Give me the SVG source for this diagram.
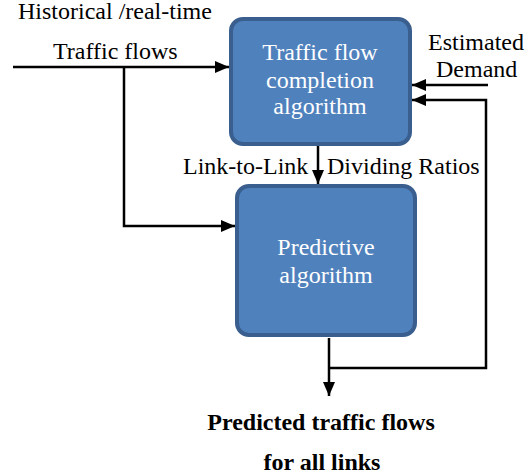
<svg xmlns="http://www.w3.org/2000/svg" width="532" height="476" viewBox="0 0 532 476">
<defs>
<marker id="arr" viewBox="0 0 14 12" markerWidth="14" markerHeight="12" refX="14" refY="6" orient="auto" markerUnits="userSpaceOnUse"><path d="M0,0 L14,6 L0,12 Z" fill="#000"/></marker>
</defs>
<style>
.box{fill:#4f81bd;stroke:#3a5f8f;stroke-width:4}
.wt{font-family:"Liberation Serif","Times New Roman",serif;font-size:24px;fill:#ffffff;text-anchor:middle}
.bt{font-family:"Liberation Serif","Times New Roman",serif;font-size:24px;fill:#000}
.bold{font-family:"Liberation Serif","Times New Roman",serif;font-size:24px;font-weight:bold;fill:#000;text-anchor:middle}
.ln{fill:none;stroke:#000;stroke-width:2.5}
</style>
<rect width="532" height="476" fill="#fff"/>
<g id="connectors">
<path class="ln" d="M13,67 H229" marker-end="url(#arr)"/>
<path class="ln" d="M124,67 V226 H235" marker-end="url(#arr)"/>
<path class="ln" d="M318,146 V184" marker-end="url(#arr)"/>
<path class="ln" d="M488,85 H412" marker-end="url(#arr)"/>
<path class="ln" d="M329,338 V396" marker-end="url(#arr)"/>
<path class="ln" d="M329,368 H486 V100 H412" marker-end="url(#arr)"/>
</g>
<g id="box1">
<rect class="box" x="231" y="19" width="179" height="125" rx="12"/>
<text class="wt" x="320" y="60">Traffic flow</text>
<text class="wt" x="320" y="88">completion</text>
<text class="wt" x="320" y="114">algorithm</text>
</g>
<g id="box2">
<rect class="box" x="237" y="186" width="178" height="149" rx="12"/>
<text class="wt" x="326" y="255">Predictive</text>
<text class="wt" x="326" y="283">algorithm</text>
</g>
<g id="labels">
<text class="bt" x="18" y="19">Historical /real-time</text>
<text class="bt" x="53" y="59">Traffic flows</text>
<text class="bt" x="428" y="50">Estimated</text>
<text class="bt" x="436" y="77">Demand</text>
<text class="bt" x="183" y="174">Link-to-Link</text>
<text class="bt" x="327" y="174">Dividing Ratios</text>
<text class="bold" x="321" y="430">Predicted traffic flows</text>
<text class="bold" x="322" y="470">for all links</text>
</g>
</svg>
